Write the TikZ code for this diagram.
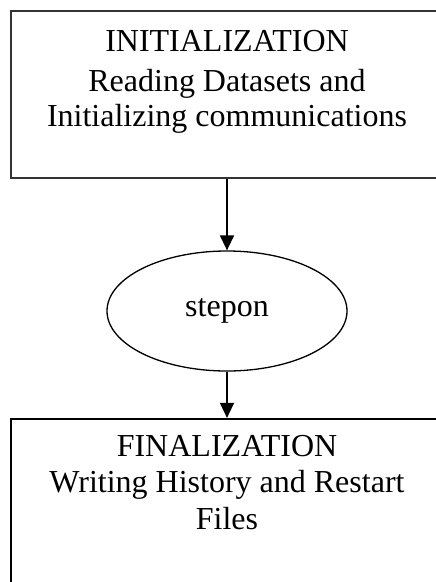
\documentclass[tikz,border=0pt]{standalone}
\usepackage{fontspec}
\setmainfont{Liberation Serif}
\usetikzlibrary{arrows.meta,shapes.geometric}

\tikzset{
  stagebox/.style={draw, rectangle, inner sep=0pt, minimum width=432pt},
  stagetext/.style={inner sep=0pt, align=center, anchor=north,
    font=\fontsize{32}{35.5}\selectfont},
  loopnode/.style={draw=black, line width=1.3pt, ellipse, inner sep=0pt,
    minimum width=240pt, minimum height=120pt,
    font=\fontsize{32}{36}\selectfont},
  flow/.style={draw=black, line width=1.5pt,
    -{Triangle[length=15pt,width=14pt]}}
}

\begin{document}
\begin{tikzpicture}[x=1pt, y=-1pt]
  \useasboundingbox (0,0) rectangle (436,582);

  % initialization stage (open on the right)
  \node[stagebox, draw=black!80, line width=2pt, minimum height=167pt]
    (init) at (227,94.5) {};
  \node[stagetext] (inittext) at (227,30.5)
    {INITIALIZATION\\[4pt]Reading Datasets and\\Initializing communications};

  % time stepping driver
  \node[loopnode] (stepon) at (227,311) {stepon};

  % finalization stage (runs off the bottom)
  \node[stagebox, draw=black, line width=2.2pt, minimum height=181pt]
    (final) at (227,509.5) {};
  \node[stagetext] (finaltext) at (227,435.5)
    {FINALIZATION\\Writing History and Restart\\[2pt]Files};

  \draw[flow] (init.south) -- (stepon.north);
  \draw[flow] (stepon.south) -- (final.north);
\end{tikzpicture}
\end{document}
